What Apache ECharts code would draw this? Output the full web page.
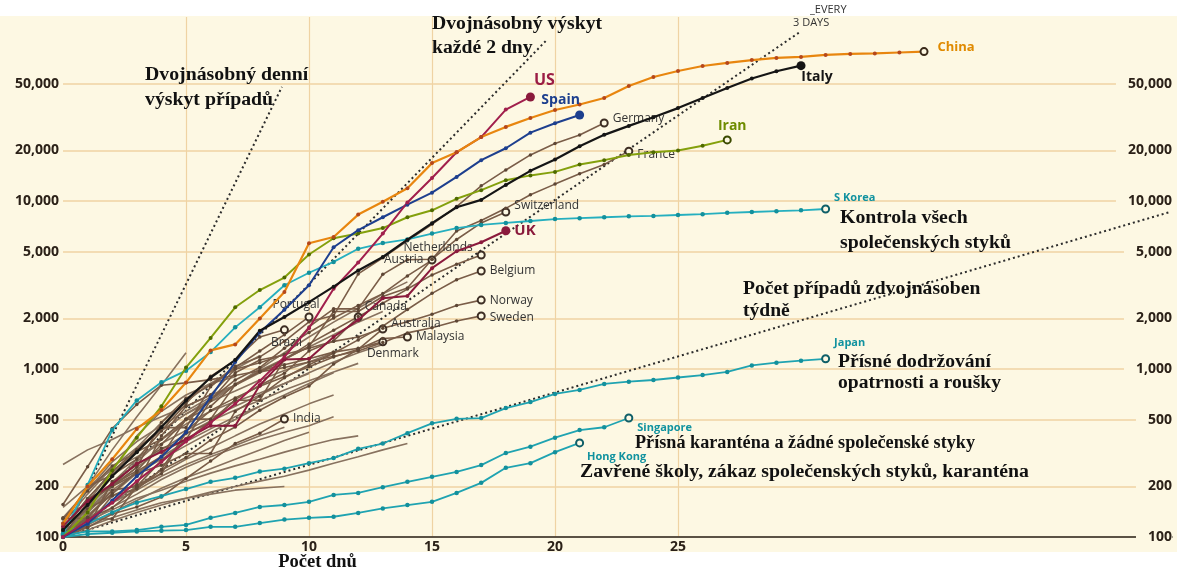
<!DOCTYPE html>
<html>
<head>
<meta charset="utf-8">
<title>Počet případů od 100. případu</title>
<script src="https://cdn.jsdelivr.net/npm/echarts@6.0.0/dist/echarts.min.js"></script>
<style>
    html, body { margin: 0; padding: 0; background: #fff; }
    #paper { position: absolute; left: 0; top: 16px; width: 1177px; height: 536px; background: #fdf8e3; }
    #chart { position: absolute; left: 0; top: 0; width: 1177px; height: 572px; }
</style>
</head>
<body>
<div id="paper"></div>
<div id="chart"></div>
<script type="text/javascript">
    // osa x = dny od 100. případu (index v poli), osa y = kumulativní počet případů
    var xTicks = [0, 5, 10, 15, 20, 25];
    var yTicks = [100, 200, 500, 1000, 2000, 5000, 10000, 20000, 50000];

    var china = [120, 200, 290, 440, 570, 830, 1290, 1400, 2000, 2870, 5600, 6100, 8300, 9900, 11900, 16800, 19500, 24000,
        27600, 31200, 34800, 37500, 41000, 48400, 54700, 59400, 63600, 66300, 69000, 71000, 72000, 74000, 75000, 75500, 76500, 77500];
    var italy = [110, 155, 230, 320, 450, 650, 890, 1130, 1690, 2040, 2500, 3090, 3860, 4640, 5880, 7380, 9170, 10150, 12460,
        15110, 17660, 21160, 24750, 27980, 31510, 35710, 41040, 47020, 53580, 59140, 63900];
    var us = [100, 125, 160, 215, 280, 370, 480, 620, 850, 1180, 1750, 3000, 4300, 6400, 9800, 13700, 19500, 24000, 35000, 41600];
    var spain = [100, 120, 165, 230, 300, 420, 680, 1100, 1650, 2250, 3150, 5300, 6700, 8000, 9500, 11200, 13900, 17500, 20600,
        25500, 29000, 32500];
    var germany = [130, 160, 200, 260, 480, 670, 800, 1040, 1180, 1460, 1910, 2080, 3680, 4590, 5800, 7270, 9260, 12300, 15300,
        18800, 22000, 24700, 29100];
    var france = [100, 130, 190, 200, 285, 380, 650, 950, 1130, 1210, 1780, 2280, 2280, 3660, 4470, 4500, 6630, 7650, 9040,
        10900, 12600, 14500, 16500, 19800];
    var iran = [100, 140, 250, 390, 600, 1020, 1530, 2330, 2950, 3500, 4800, 6000, 6400, 6900, 8000, 8800, 10300, 11600, 13300,
        14200, 14900, 16500, 17500, 18800, 19500, 20000, 21300, 23100];
    var sKorea = [104, 204, 433, 650, 833, 977, 1260, 1770, 2330, 3150, 3740, 4340, 5190, 5620, 5900, 6400, 6900, 7200, 7400,
        7600, 7800, 7900, 8000, 8100, 8150, 8250, 8350, 8500, 8600, 8700, 8800, 8960];
    var japan = [105, 120, 140, 160, 175, 193, 213, 225, 245, 255, 275, 295, 335, 360, 415, 475, 505, 510, 585, 635, 710, 750,
        815, 840, 860, 890, 920, 960, 1050, 1090, 1120, 1150];
    var singapore = [102, 108, 108, 110, 115, 118, 130, 139, 151, 155, 162, 178, 183, 198, 213, 228, 244, 268, 316, 345, 390,
        433, 450, 511];
    var hongKong = [100, 104, 106, 108, 109, 110, 115, 115, 121, 127, 130, 132, 139, 148, 155, 162, 183, 210, 258, 275, 320, 363];
    var uk = [116, 164, 207, 273, 321, 383, 460, 460, 800, 1140, 1150, 1550, 1960, 2640, 2720, 3980, 5020, 5680, 6650];
    var switzerland = [100, 114, 214, 268, 337, 374, 491, 652, 652, 1140, 1360, 2200, 2200, 2700, 3030, 4500, 5900, 7400, 8600];
    var netherlands = [128, 188, 265, 321, 382, 503, 503, 806, 962, 1140, 1410, 1700, 2050, 2460, 2990, 3630, 4200, 4770];
    var austria = [104, 131, 182, 246, 302, 504, 655, 860, 1020, 1330, 1650, 2010, 2390, 2810, 3580, 4450];
    var belgium = [109, 169, 200, 239, 267, 314, 314, 559, 689, 886, 1060, 1240, 1490, 1800, 2260, 2820, 3400, 3830];
    var norway = [113, 147, 176, 205, 400, 598, 702, 996, 1090, 1220, 1330, 1460, 1550, 1750, 1910, 2120, 2390, 2570];
    var sweden = [101, 161, 203, 248, 355, 500, 599, 814, 961, 1020, 1100, 1190, 1280, 1440, 1640, 1760, 1930, 2070];
    var portugal = [112, 169, 245, 331, 448, 448, 785, 1020, 1280, 1600, 2040];
    var brazil = [121, 200, 234, 291, 428, 621, 904, 1130, 1550, 1710];
    var canada = [103, 117, 176, 193, 252, 415, 478, 657, 800, 943, 1280, 1470, 2040];
    var australia = [107, 128, 128, 200, 250, 297, 377, 452, 568, 681, 791, 1070, 1310, 1730];
    var malaysia = [129, 129, 149, 197, 238, 428, 566, 673, 790, 900, 1030, 1180, 1310, 1520, 1550];
    var denmark = [156, 262, 442, 615, 801, 827, 864, 914, 977, 1060, 1150, 1260, 1330, 1450];
    var india = [107, 114, 137, 151, 173, 223, 283, 360, 415, 504];

    // ostatní země bez popisku (šedohnědý svazek)
    var otherLines = [
        [100, 200, 330, 520, 800, 1250],
        [100, 160, 250, 400, 560, 700, 820, 900],
        [120, 180, 260, 340, 430, 540, 660, 800, 950, 1150],
        [100, 140, 190, 240, 290, 350, 420, 500, 600, 700, 820, 950],
        [100, 130, 160, 200, 240, 290, 340, 400, 470, 540, 620, 700],
        [100, 120, 150, 180, 220, 260, 300, 340, 380, 420, 460, 520],
        [100, 125, 145, 170, 190, 215, 240, 265, 290, 320, 350, 380, 400],
        [100, 110, 125, 140, 155, 170, 185, 200, 215, 230, 250, 275, 300, 330, 360],
        [100, 115, 130, 145, 160, 170, 180, 190, 195, 200],
        [270, 330, 380, 450, 520, 600, 700, 800],
        [100, 150, 210, 290, 380, 470, 560, 640, 720, 820, 940],
        [110, 170, 240, 330, 430, 540, 640, 740, 860, 980, 1100, 1250],
        [100, 135, 180, 240, 300, 370, 440, 520, 600],
        [100, 125, 160, 190, 230, 270, 310, 350, 400, 450],
        [105, 145, 200, 260, 330, 410, 490, 570, 650, 750, 850, 960, 1080],
        [100, 118, 140, 165, 195, 225, 255, 290, 330, 375, 420],
        [130, 190, 280, 370, 460, 560, 680, 800, 980, 1150, 1350, 1600, 1900, 2200],
        [100, 140, 200, 280, 380, 500, 640, 800, 1000, 1250, 1550, 1900, 2300, 2800, 3300],
        [100, 150, 230, 340, 480, 640, 820, 1000, 1200],
        [150, 200, 250, 300, 360, 430, 510, 600, 700, 820, 950, 1100, 1250, 1400]
    ];

    // referenční přímky zdvojnásobení: [den, počet]
    var doubleDaily = [[0, 100], [8.9, 47800]];
    var doubleTwoDays = [[0, 100], [19.7, 92000]];
    var doubleThreeDays = [[0, 100], [30, 102400]];
    var doubleWeekly = [[0, 100], [45, 8600]];

    var cream = '#fdf8e3';
    var gridColor = '#efd3a3';
    var sans = '"Open Sans", "DejaVu Sans", sans-serif';
    var serif = '"Liberation Serif", "DejaVu Serif", serif';

    function fmt(v) {
        return Math.round(v).toLocaleString('en-US');
    }

    function refLine(pts) {
        return {
            type: 'line', data: pts, symbol: 'none', silent: true, z: 1,
            lineStyle: {color: '#2b2b2b', width: 2, type: [2, 3]}
        };
    }

    function country(name, vals, c, end, lbl) {
        var data = vals.map(function (v, i) {
            return [i, v];
        });
        var n = data.length - 1;
        data[n] = {
            value: data[n],
            symbolSize: end.open ? 7 : 9,
            itemStyle: end.open ? {color: cream, borderColor: end.edge, borderWidth: 2} : {color: end.edge},
            label: {
                show: true, formatter: name, position: lbl.pos, offset: lbl.off || [0, 0], distance: 4,
                color: lbl.color || '#333', fontSize: lbl.size || 12, fontWeight: lbl.weight || 'normal',
                fontFamily: sans
            }
        };
        return {
            type: 'line', name: name, data: data, symbol: 'circle', symbolSize: c.dot || 4, showSymbol: true,
            z: c.z || 3, silent: true,
            lineStyle: {color: c.line, width: c.width || 2},
            itemStyle: {color: c.mark || c.line}
        };
    }

    var brown = {line: '#7a5d48', mark: '#5d4635', dot: 3.5, width: 1.6};
    var brownEnd = {open: true, edge: '#3d2e24'};
    var teal = {line: '#1fa3b1', mark: '#13909c', dot: 4.5, width: 1.8};
    var tealEnd = {open: true, edge: '#0f5f68'};
    var tealLbl = {color: '#11929f', size: 11, weight: 'bold'};

    var series = [];
    otherLines.forEach(function (vals) {
        series.push({
            type: 'line', data: vals.map(function (v, i) { return [i, v]; }), showSymbol: false, silent: true, z: 2,
            lineStyle: {color: '#88725f', width: 1.6}
        });
    });
    series.push(refLine(doubleDaily), refLine(doubleTwoDays), refLine(doubleThreeDays), refLine(doubleWeekly));

    function withLbl(base, extra) {
        return Object.assign({}, base, extra);
    }

    series.push(
        country('India', india, brown, brownEnd, {pos: 'right'}),
        country('Denmark', denmark, brown, brownEnd, {pos: 'bottom', off: [10, -3]}),
        country('Malaysia', malaysia, brown, brownEnd, {pos: 'right'}),
        country('Australia', australia, brown, brownEnd, {pos: 'right', off: [0, -5]}),
        country('Canada', canada, brown, brownEnd, {pos: 'right', off: [-2, -10]}),
        country('Brazil', brazil, brown, brownEnd, {pos: 'bottom', off: [2, -2]}),
        country('Portugal', portugal, brown, brownEnd, {pos: 'top', off: [-13, 2]}),
        country('Sweden', sweden, brown, brownEnd, {pos: 'right', off: [0, 2]}),
        country('Norway', norway, brown, brownEnd, {pos: 'right'}),
        country('Belgium', belgium, brown, brownEnd, {pos: 'right'}),
        country('Austria', austria, brown, brownEnd, {pos: 'left'}),
        country('Netherlands', netherlands, brown, brownEnd, {pos: 'left', off: [0, -7]}),
        country('Switzerland', switzerland, brown, brownEnd, {pos: 'right', off: [0, -6]}),
        country('France', france, brown, brownEnd, {pos: 'right', off: [0, 3]}),
        country('Germany', germany, brown, brownEnd, {pos: 'right', off: [0, -4]}),
        country('Hong Kong', hongKong, teal, tealEnd, withLbl(tealLbl, {pos: 'bottom', off: [37, 0]})),
        country('Singapore', singapore, teal, tealEnd, withLbl(tealLbl, {pos: 'right', off: [0, 10]})),
        country('Japan', japan, teal, tealEnd, withLbl(tealLbl, {pos: 'right', off: [0, -16]})),
        country('S Korea', sKorea, {line: '#25afbf', mark: '#13909c', dot: 4.5, width: 1.8}, tealEnd,
            withLbl(tealLbl, {pos: 'right', off: [0, -11]})),
        country('UK', uk, {line: '#8a1a3c', dot: 4, z: 4}, {edge: '#8a1a3c'},
            {pos: 'right', color: '#8a1a3c', size: 15, weight: 'bold'}),
        country('Iran', iran, {line: '#84a00c', mark: '#4f6a00', dot: 4, z: 4}, {open: true, edge: '#3b4a00'},
            {pos: 'top', off: [5, 2], color: '#6e8c00', size: 14, weight: 'bold'}),
        country('Spain', spain, {line: '#1d3f8e', dot: 4, z: 4}, {edge: '#1d3f8e'},
            {pos: 'top', off: [-19, 1], color: '#1d3f8e', size: 14, weight: 'bold'}),
        country('US', us, {line: '#a11f4c', dot: 4, z: 4}, {edge: '#8a1a3c'},
            {pos: 'top', off: [14, 0], color: '#9b1c44', size: 16, weight: 'bold'}),
        country('Italy', italy, {line: '#151515', dot: 4, z: 4, width: 2.2}, {edge: '#151515'},
            {pos: 'bottom', off: [16, -4], color: '#151515', size: 14, weight: 'bold'}),
        country('China', china, {line: '#e8860f', mark: '#b5471b', dot: 4, z: 4, width: 2.2}, {open: true, edge: '#3a2a1a'},
            {pos: 'right', off: [5, -4], color: '#e08a00', size: 13, weight: 'bold'})
    );

    function note(text, x, y, size) {
        return {
            type: 'text', x: x, y: y, z: 100, silent: true,
            style: {text: text, fill: '#111', font: 'bold ' + size + 'px ' + serif, verticalAlign: 'middle'}
        };
    }

    var notes = [
        note('Dvojnásobný denní', 145, 75, 19.8),
        note('výskyt případů', 145, 100, 19.8),
        note('Dvojnásobný výskyt', 432, 24, 19.7),
        note('každé 2 dny', 432, 48, 19.7),
        note('Kontrola všech', 840, 218, 19.8),
        note('společenských styků', 840, 243, 19.8),
        note('Počet případů zdvojnásoben', 743, 289, 19.6),
        note('týdně', 743, 311, 19.6),
        note('Přísné dodržování', 838, 362, 19.6),
        note('opatrnosti a roušky', 838, 383, 19.6),
        note('Přísná karanténa a žádné společenské styky', 635, 443, 18.2),
        note('Zavřené školy, zákaz společenských styků, karanténa', 580, 472, 19.8),
        {
            type: 'text', x: 810, y: 10, z: 100, silent: true,
            style: {text: '_EVERY', fill: '#333', font: '11px ' + sans, verticalAlign: 'middle'}
        },
        {
            type: 'text', x: 793, y: 23, z: 100, silent: true,
            style: {text: '3 DAYS', fill: '#333', font: '11px ' + sans, verticalAlign: 'middle'}
        }
    ];

    var axisFont = {fontSize: 14, fontWeight: 'bold', color: '#2b2118', fontFamily: sans};

    var chart = echarts.init(document.getElementById('chart'));
    var option = {
        animation: false,
        grid: {left: 63, right: 5, top: 17, bottom: 35, outerBoundsMode: 'none', containLabel: false},
        xAxis: {
            type: 'value', min: 0, max: 45.08,
            axisLine: {lineStyle: {color: '#2a2420', width: 1.5}},
            axisTick: {show: false, customValues: xTicks},
            axisLabel: Object.assign({customValues: xTicks, margin: 3}, axisFont),
            splitLine: {show: true, showMinLine: false, lineStyle: {color: gridColor, width: 1.2}},
            name: 'Počet dnů', nameLocation: 'middle', nameGap: 25, nameMoveOverlap: false,
            nameTextStyle: {
                fontFamily: serif, fontWeight: 'bold', fontSize: 18.5, color: '#111',
                padding: [0, 600, 0, 0], verticalAlign: 'middle'
            }
        },
        yAxis: [{
            type: 'log', logBase: 10, min: 100, max: 124450, position: 'left',
            axisLine: {show: false},
            axisTick: {show: false, customValues: yTicks},
            axisLabel: Object.assign({customValues: yTicks, margin: 4, formatter: fmt}, axisFont),
            splitLine: {show: true, lineStyle: {color: gridColor, width: 1.5}}
        }, {
            type: 'log', logBase: 10, min: 100, max: 124450, position: 'right',
            axisLine: {show: false},
            axisTick: {show: false, customValues: yTicks},
            axisLabel: Object.assign({
                customValues: yTicks, margin: 0, formatter: fmt, align: 'right',
                backgroundColor: cream, padding: [2, 0, 2, 12]
            }, axisFont),
            splitLine: {show: false}
        }],
        graphic: notes,
        series: series
    };
    chart.setOption(option);
</script>
</body>
</html>
